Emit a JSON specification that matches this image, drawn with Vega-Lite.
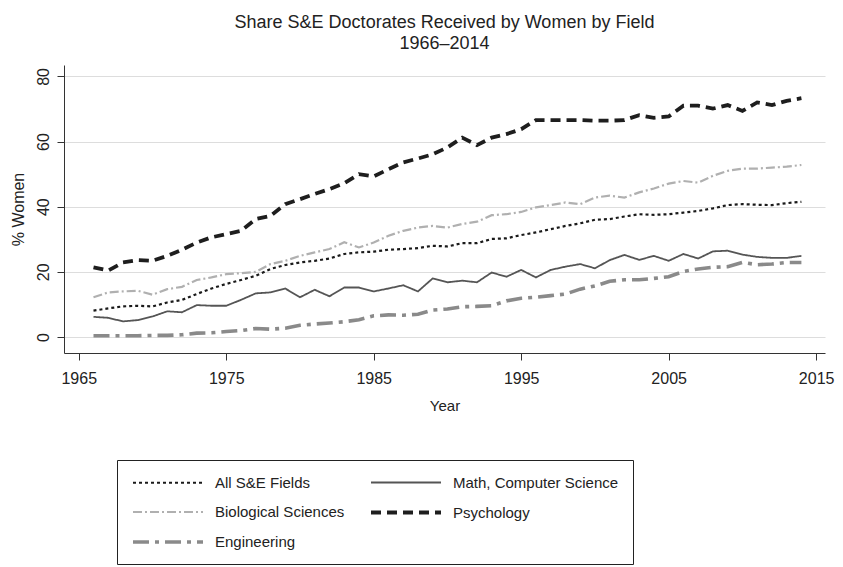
{
  "$schema": "https://vega.github.io/schema/vega-lite/v6.json",
  "autosize": {"type": "none"},
  "padding": {"left": 64, "top": 65, "right": 18, "bottom": 214},
  "width": 761,
  "height": 288,
  "background": "white",
  "title": {
    "text": ["Share S&E Doctorates Received by Women by Field", "1966–2014"],
    "anchor": "middle",
    "fontSize": 18,
    "fontWeight": "normal",
    "font": "Liberation Sans",
    "color": "#222222",
    "lineHeight": 21,
    "offset": 12
  },
  "config": {
    "view": {"stroke": null},
    "font": "Liberation Sans",
    "axis": {
      "labelFont": "Liberation Sans",
      "titleFont": "Liberation Sans",
      "labelFontSize": 16,
      "titleFontSize": 15,
      "titleFontWeight": "normal",
      "labelColor": "#222222",
      "titleColor": "#222222",
      "domainColor": "#333333",
      "tickColor": "#333333",
      "tickSize": 7,
      "gridColor": "#dddddd",
      "gridWidth": 1
    },
    "legend": {
      "orient": "none",
      "legendX": 53,
      "legendY": 395,
      "columns": 2,
      "strokeColor": "#222222",
      "fillColor": "white",
      "padding": 14,
      "columnPadding": 18,
      "rowPadding": 12.5,
      "labelFont": "Liberation Sans",
      "labelFontSize": 15,
      "labelColor": "#222222",
      "labelLimit": 600,
      "symbolType": "M-1,0H9",
      "symbolSize": 196,
      "labelOffset": 66
    }
  },
  "data": {
    "values": [
      {"Year":1966,"Field":"All S&E Fields","Share":8.1},{"Year":1967,"Field":"All S&E Fields","Share":8.8},{"Year":1968,"Field":"All S&E Fields","Share":9.4},{"Year":1969,"Field":"All S&E Fields","Share":9.6},{"Year":1970,"Field":"All S&E Fields","Share":9.4},{"Year":1971,"Field":"All S&E Fields","Share":10.6},{"Year":1972,"Field":"All S&E Fields","Share":11.4},{"Year":1973,"Field":"All S&E Fields","Share":13.2},{"Year":1974,"Field":"All S&E Fields","Share":14.9},{"Year":1975,"Field":"All S&E Fields","Share":16.3},
      {"Year":1976,"Field":"All S&E Fields","Share":17.5},{"Year":1977,"Field":"All S&E Fields","Share":18.8},{"Year":1978,"Field":"All S&E Fields","Share":20.9},{"Year":1979,"Field":"All S&E Fields","Share":22.1},{"Year":1980,"Field":"All S&E Fields","Share":22.9},{"Year":1981,"Field":"All S&E Fields","Share":23.4},{"Year":1982,"Field":"All S&E Fields","Share":24.1},{"Year":1983,"Field":"All S&E Fields","Share":25.5},{"Year":1984,"Field":"All S&E Fields","Share":26.0},{"Year":1985,"Field":"All S&E Fields","Share":26.2},
      {"Year":1986,"Field":"All S&E Fields","Share":26.8},{"Year":1987,"Field":"All S&E Fields","Share":27.0},{"Year":1988,"Field":"All S&E Fields","Share":27.3},{"Year":1989,"Field":"All S&E Fields","Share":28.0},{"Year":1990,"Field":"All S&E Fields","Share":27.8},{"Year":1991,"Field":"All S&E Fields","Share":28.8},{"Year":1992,"Field":"All S&E Fields","Share":28.8},{"Year":1993,"Field":"All S&E Fields","Share":30.1},{"Year":1994,"Field":"All S&E Fields","Share":30.3},{"Year":1995,"Field":"All S&E Fields","Share":31.3},
      {"Year":1996,"Field":"All S&E Fields","Share":32.1},{"Year":1997,"Field":"All S&E Fields","Share":33.1},{"Year":1998,"Field":"All S&E Fields","Share":34.1},{"Year":1999,"Field":"All S&E Fields","Share":34.9},{"Year":2000,"Field":"All S&E Fields","Share":36.0},{"Year":2001,"Field":"All S&E Fields","Share":36.2},{"Year":2002,"Field":"All S&E Fields","Share":37.0},{"Year":2003,"Field":"All S&E Fields","Share":37.7},{"Year":2004,"Field":"All S&E Fields","Share":37.5},{"Year":2005,"Field":"All S&E Fields","Share":37.7},
      {"Year":2006,"Field":"All S&E Fields","Share":38.2},{"Year":2007,"Field":"All S&E Fields","Share":38.7},{"Year":2008,"Field":"All S&E Fields","Share":39.5},{"Year":2009,"Field":"All S&E Fields","Share":40.5},{"Year":2010,"Field":"All S&E Fields","Share":40.8},{"Year":2011,"Field":"All S&E Fields","Share":40.6},{"Year":2012,"Field":"All S&E Fields","Share":40.5},{"Year":2013,"Field":"All S&E Fields","Share":41.1},{"Year":2014,"Field":"All S&E Fields","Share":41.5},

      {"Year":1966,"Field":"Math, Computer Science","Share":6.2},{"Year":1967,"Field":"Math, Computer Science","Share":5.9},{"Year":1968,"Field":"Math, Computer Science","Share":4.8},{"Year":1969,"Field":"Math, Computer Science","Share":5.2},{"Year":1970,"Field":"Math, Computer Science","Share":6.3},{"Year":1971,"Field":"Math, Computer Science","Share":7.9},{"Year":1972,"Field":"Math, Computer Science","Share":7.6},{"Year":1973,"Field":"Math, Computer Science","Share":9.8},{"Year":1974,"Field":"Math, Computer Science","Share":9.6},{"Year":1975,"Field":"Math, Computer Science","Share":9.6},
      {"Year":1976,"Field":"Math, Computer Science","Share":11.4},{"Year":1977,"Field":"Math, Computer Science","Share":13.4},{"Year":1978,"Field":"Math, Computer Science","Share":13.7},{"Year":1979,"Field":"Math, Computer Science","Share":14.9},{"Year":1980,"Field":"Math, Computer Science","Share":12.2},{"Year":1981,"Field":"Math, Computer Science","Share":14.5},{"Year":1982,"Field":"Math, Computer Science","Share":12.5},{"Year":1983,"Field":"Math, Computer Science","Share":15.2},{"Year":1984,"Field":"Math, Computer Science","Share":15.2},{"Year":1985,"Field":"Math, Computer Science","Share":14.0},
      {"Year":1986,"Field":"Math, Computer Science","Share":14.9},{"Year":1987,"Field":"Math, Computer Science","Share":15.9},{"Year":1988,"Field":"Math, Computer Science","Share":14.0},{"Year":1989,"Field":"Math, Computer Science","Share":18.0},{"Year":1990,"Field":"Math, Computer Science","Share":16.8},{"Year":1991,"Field":"Math, Computer Science","Share":17.3},{"Year":1992,"Field":"Math, Computer Science","Share":16.8},{"Year":1993,"Field":"Math, Computer Science","Share":19.8},{"Year":1994,"Field":"Math, Computer Science","Share":18.5},{"Year":1995,"Field":"Math, Computer Science","Share":20.6},
      {"Year":1996,"Field":"Math, Computer Science","Share":18.3},{"Year":1997,"Field":"Math, Computer Science","Share":20.6},{"Year":1998,"Field":"Math, Computer Science","Share":21.6},{"Year":1999,"Field":"Math, Computer Science","Share":22.4},{"Year":2000,"Field":"Math, Computer Science","Share":21.1},{"Year":2001,"Field":"Math, Computer Science","Share":23.6},{"Year":2002,"Field":"Math, Computer Science","Share":25.2},{"Year":2003,"Field":"Math, Computer Science","Share":23.7},{"Year":2004,"Field":"Math, Computer Science","Share":24.9},{"Year":2005,"Field":"Math, Computer Science","Share":23.4},
      {"Year":2006,"Field":"Math, Computer Science","Share":25.5},{"Year":2007,"Field":"Math, Computer Science","Share":24.1},{"Year":2008,"Field":"Math, Computer Science","Share":26.3},{"Year":2009,"Field":"Math, Computer Science","Share":26.5},{"Year":2010,"Field":"Math, Computer Science","Share":25.3},{"Year":2011,"Field":"Math, Computer Science","Share":24.6},{"Year":2012,"Field":"Math, Computer Science","Share":24.3},{"Year":2013,"Field":"Math, Computer Science","Share":24.3},{"Year":2014,"Field":"Math, Computer Science","Share":24.9},

      {"Year":1966,"Field":"Biological Sciences","Share":12.2},{"Year":1967,"Field":"Biological Sciences","Share":13.7},{"Year":1968,"Field":"Biological Sciences","Share":14.0},{"Year":1969,"Field":"Biological Sciences","Share":14.2},{"Year":1970,"Field":"Biological Sciences","Share":13.0},{"Year":1971,"Field":"Biological Sciences","Share":14.7},{"Year":1972,"Field":"Biological Sciences","Share":15.4},{"Year":1973,"Field":"Biological Sciences","Share":17.5},{"Year":1974,"Field":"Biological Sciences","Share":18.3},{"Year":1975,"Field":"Biological Sciences","Share":19.3},
      {"Year":1976,"Field":"Biological Sciences","Share":19.6},{"Year":1977,"Field":"Biological Sciences","Share":20.0},{"Year":1978,"Field":"Biological Sciences","Share":22.4},{"Year":1979,"Field":"Biological Sciences","Share":23.4},{"Year":1980,"Field":"Biological Sciences","Share":24.9},{"Year":1981,"Field":"Biological Sciences","Share":26.0},{"Year":1982,"Field":"Biological Sciences","Share":27.0},{"Year":1983,"Field":"Biological Sciences","Share":29.1},{"Year":1984,"Field":"Biological Sciences","Share":27.5},{"Year":1985,"Field":"Biological Sciences","Share":29.0},
      {"Year":1986,"Field":"Biological Sciences","Share":31.1},{"Year":1987,"Field":"Biological Sciences","Share":32.6},{"Year":1988,"Field":"Biological Sciences","Share":33.6},{"Year":1989,"Field":"Biological Sciences","Share":34.1},{"Year":1990,"Field":"Biological Sciences","Share":33.6},{"Year":1991,"Field":"Biological Sciences","Share":34.7},{"Year":1992,"Field":"Biological Sciences","Share":35.4},{"Year":1993,"Field":"Biological Sciences","Share":37.4},{"Year":1994,"Field":"Biological Sciences","Share":37.7},{"Year":1995,"Field":"Biological Sciences","Share":38.4},
      {"Year":1996,"Field":"Biological Sciences","Share":39.8},{"Year":1997,"Field":"Biological Sciences","Share":40.5},{"Year":1998,"Field":"Biological Sciences","Share":41.3},{"Year":1999,"Field":"Biological Sciences","Share":40.8},{"Year":2000,"Field":"Biological Sciences","Share":42.8},{"Year":2001,"Field":"Biological Sciences","Share":43.4},{"Year":2002,"Field":"Biological Sciences","Share":42.8},{"Year":2003,"Field":"Biological Sciences","Share":44.4},{"Year":2004,"Field":"Biological Sciences","Share":45.6},{"Year":2005,"Field":"Biological Sciences","Share":47.1},
      {"Year":2006,"Field":"Biological Sciences","Share":47.9},{"Year":2007,"Field":"Biological Sciences","Share":47.4},{"Year":2008,"Field":"Biological Sciences","Share":49.5},{"Year":2009,"Field":"Biological Sciences","Share":51.0},{"Year":2010,"Field":"Biological Sciences","Share":51.7},{"Year":2011,"Field":"Biological Sciences","Share":51.7},{"Year":2012,"Field":"Biological Sciences","Share":52.0},{"Year":2013,"Field":"Biological Sciences","Share":52.3},{"Year":2014,"Field":"Biological Sciences","Share":52.8},

      {"Year":1966,"Field":"Engineering","Share":0.4},{"Year":1967,"Field":"Engineering","Share":0.4},{"Year":1968,"Field":"Engineering","Share":0.4},{"Year":1969,"Field":"Engineering","Share":0.4},{"Year":1970,"Field":"Engineering","Share":0.5},{"Year":1971,"Field":"Engineering","Share":0.5},{"Year":1972,"Field":"Engineering","Share":0.7},{"Year":1973,"Field":"Engineering","Share":1.2},{"Year":1974,"Field":"Engineering","Share":1.3},{"Year":1975,"Field":"Engineering","Share":1.7},
      {"Year":1976,"Field":"Engineering","Share":2.0},{"Year":1977,"Field":"Engineering","Share":2.6},{"Year":1978,"Field":"Engineering","Share":2.4},{"Year":1979,"Field":"Engineering","Share":2.7},{"Year":1980,"Field":"Engineering","Share":3.6},{"Year":1981,"Field":"Engineering","Share":4.0},{"Year":1982,"Field":"Engineering","Share":4.3},{"Year":1983,"Field":"Engineering","Share":4.7},{"Year":1984,"Field":"Engineering","Share":5.3},{"Year":1985,"Field":"Engineering","Share":6.5},
      {"Year":1986,"Field":"Engineering","Share":6.8},{"Year":1987,"Field":"Engineering","Share":6.7},{"Year":1988,"Field":"Engineering","Share":7.0},{"Year":1989,"Field":"Engineering","Share":8.3},{"Year":1990,"Field":"Engineering","Share":8.6},{"Year":1991,"Field":"Engineering","Share":9.3},{"Year":1992,"Field":"Engineering","Share":9.4},{"Year":1993,"Field":"Engineering","Share":9.6},{"Year":1994,"Field":"Engineering","Share":11.1},{"Year":1995,"Field":"Engineering","Share":11.9},
      {"Year":1996,"Field":"Engineering","Share":12.2},{"Year":1997,"Field":"Engineering","Share":12.7},{"Year":1998,"Field":"Engineering","Share":13.2},{"Year":1999,"Field":"Engineering","Share":14.7},{"Year":2000,"Field":"Engineering","Share":15.7},{"Year":2001,"Field":"Engineering","Share":17.1},{"Year":2002,"Field":"Engineering","Share":17.6},{"Year":2003,"Field":"Engineering","Share":17.6},{"Year":2004,"Field":"Engineering","Share":18.0},{"Year":2005,"Field":"Engineering","Share":18.5},
      {"Year":2006,"Field":"Engineering","Share":20.1},{"Year":2007,"Field":"Engineering","Share":20.9},{"Year":2008,"Field":"Engineering","Share":21.4},{"Year":2009,"Field":"Engineering","Share":21.6},{"Year":2010,"Field":"Engineering","Share":22.9},{"Year":2011,"Field":"Engineering","Share":22.2},{"Year":2012,"Field":"Engineering","Share":22.4},{"Year":2013,"Field":"Engineering","Share":22.9},{"Year":2014,"Field":"Engineering","Share":22.9},

      {"Year":1966,"Field":"Psychology","Share":21.4},{"Year":1967,"Field":"Psychology","Share":20.4},{"Year":1968,"Field":"Psychology","Share":22.9},{"Year":1969,"Field":"Psychology","Share":23.6},{"Year":1970,"Field":"Psychology","Share":23.4},{"Year":1971,"Field":"Psychology","Share":24.9},{"Year":1972,"Field":"Psychology","Share":26.8},{"Year":1973,"Field":"Psychology","Share":29.0},{"Year":1974,"Field":"Psychology","Share":30.6},{"Year":1975,"Field":"Psychology","Share":31.6},
      {"Year":1976,"Field":"Psychology","Share":32.6},{"Year":1977,"Field":"Psychology","Share":36.2},{"Year":1978,"Field":"Psychology","Share":37.2},{"Year":1979,"Field":"Psychology","Share":40.8},{"Year":1980,"Field":"Psychology","Share":42.3},{"Year":1981,"Field":"Psychology","Share":43.9},{"Year":1982,"Field":"Psychology","Share":45.4},{"Year":1983,"Field":"Psychology","Share":47.2},{"Year":1984,"Field":"Psychology","Share":50.0},{"Year":1985,"Field":"Psychology","Share":49.3},
      {"Year":1986,"Field":"Psychology","Share":51.5},{"Year":1987,"Field":"Psychology","Share":53.6},{"Year":1988,"Field":"Psychology","Share":54.8},{"Year":1989,"Field":"Psychology","Share":56.1},{"Year":1990,"Field":"Psychology","Share":58.2},{"Year":1991,"Field":"Psychology","Share":61.2},{"Year":1992,"Field":"Psychology","Share":58.9},{"Year":1993,"Field":"Psychology","Share":61.2},{"Year":1994,"Field":"Psychology","Share":62.3},{"Year":1995,"Field":"Psychology","Share":63.8},
      {"Year":1996,"Field":"Psychology","Share":66.6},{"Year":1997,"Field":"Psychology","Share":66.6},{"Year":1998,"Field":"Psychology","Share":66.6},{"Year":1999,"Field":"Psychology","Share":66.6},{"Year":2000,"Field":"Psychology","Share":66.4},{"Year":2001,"Field":"Psychology","Share":66.4},{"Year":2002,"Field":"Psychology","Share":66.6},{"Year":2003,"Field":"Psychology","Share":68.1},{"Year":2004,"Field":"Psychology","Share":67.3},{"Year":2005,"Field":"Psychology","Share":67.7},
      {"Year":2006,"Field":"Psychology","Share":71.0},{"Year":2007,"Field":"Psychology","Share":71.0},{"Year":2008,"Field":"Psychology","Share":70.1},{"Year":2009,"Field":"Psychology","Share":71.2},{"Year":2010,"Field":"Psychology","Share":69.4},{"Year":2011,"Field":"Psychology","Share":72.0},{"Year":2012,"Field":"Psychology","Share":71.2},{"Year":2013,"Field":"Psychology","Share":72.5},{"Year":2014,"Field":"Psychology","Share":73.3}
    ]
  },
  "mark": {"type": "line", "strokeCap": "butt", "strokeJoin": "miter"},
  "encoding": {
    "x": {
      "field": "Year",
      "type": "quantitative",
      "scale": {"domain": [1964.0, 2015.6], "nice": false, "zero": false},
      "axis": {
        "title": "Year",
        "values": [1965, 1975, 1985, 1995, 2005, 2015],
        "format": "d",
        "grid": false,
        "labelPadding": 10,
        "titlePadding": 12,
        "labelFlush": false
      }
    },
    "y": {
      "field": "Share",
      "type": "quantitative",
      "scale": {"domain": [-4.9, 83.5], "nice": false, "zero": false},
      "axis": {
        "title": "% Women",
        "values": [0, 20, 40, 60, 80],
        "labelAngle": 270,
        "labelPadding": 6,
        "titlePadding": 9,
        "titleFontSize": 16,
        "grid": true,
        "labelFlush": false
      }
    },
    "color": {
      "field": "Field",
      "type": "nominal",
      "title": null,
      "legend": {
        "labelExpr": "datum.label == 'Math, Computer Science' ? datum.label + '\u00a0\u00a0\u00a0\u00a0\u00a0\u00a0\u00a0\u00a0\u00a0\u00a0\u00a0\u00a0\u00a0\u00a0\u00a0\u00a0\u00a0\u00a0\u00a0\u00a0\u00a0\u00a0\u00a0\u00a0\u00a0\u00a0\u00a0\u00a0\u00a0\u00a0\u00a0' : datum.label"
      },
      "scale": {
        "domain": ["All S&E Fields", "Biological Sciences", "Engineering", "Math, Computer Science", "Psychology"],
        "range": ["#1a1a1a", "#b0b0b0", "#8a8a8a", "#555555", "#1e1e1e"]
      }
    },
    "strokeDash": {
      "field": "Field",
      "type": "nominal",
      "title": null,
      "scale": {
        "domain": ["All S&E Fields", "Biological Sciences", "Engineering", "Math, Computer Science", "Psychology"],
        "range": [[3, 3], [9, 3, 2, 3], [16, 6, 4, 6], [1, 0], [10, 6]]
      }
    },
    "strokeWidth": {
      "field": "Field",
      "type": "nominal",
      "title": null,
      "scale": {
        "type": "ordinal",
        "domain": ["All S&E Fields", "Biological Sciences", "Engineering", "Math, Computer Science", "Psychology"],
        "range": [2.2, 2.2, 3.6, 1.8, 3.8]
      }
    },
    "order": {"field": "Year", "type": "quantitative"}
  }
}
